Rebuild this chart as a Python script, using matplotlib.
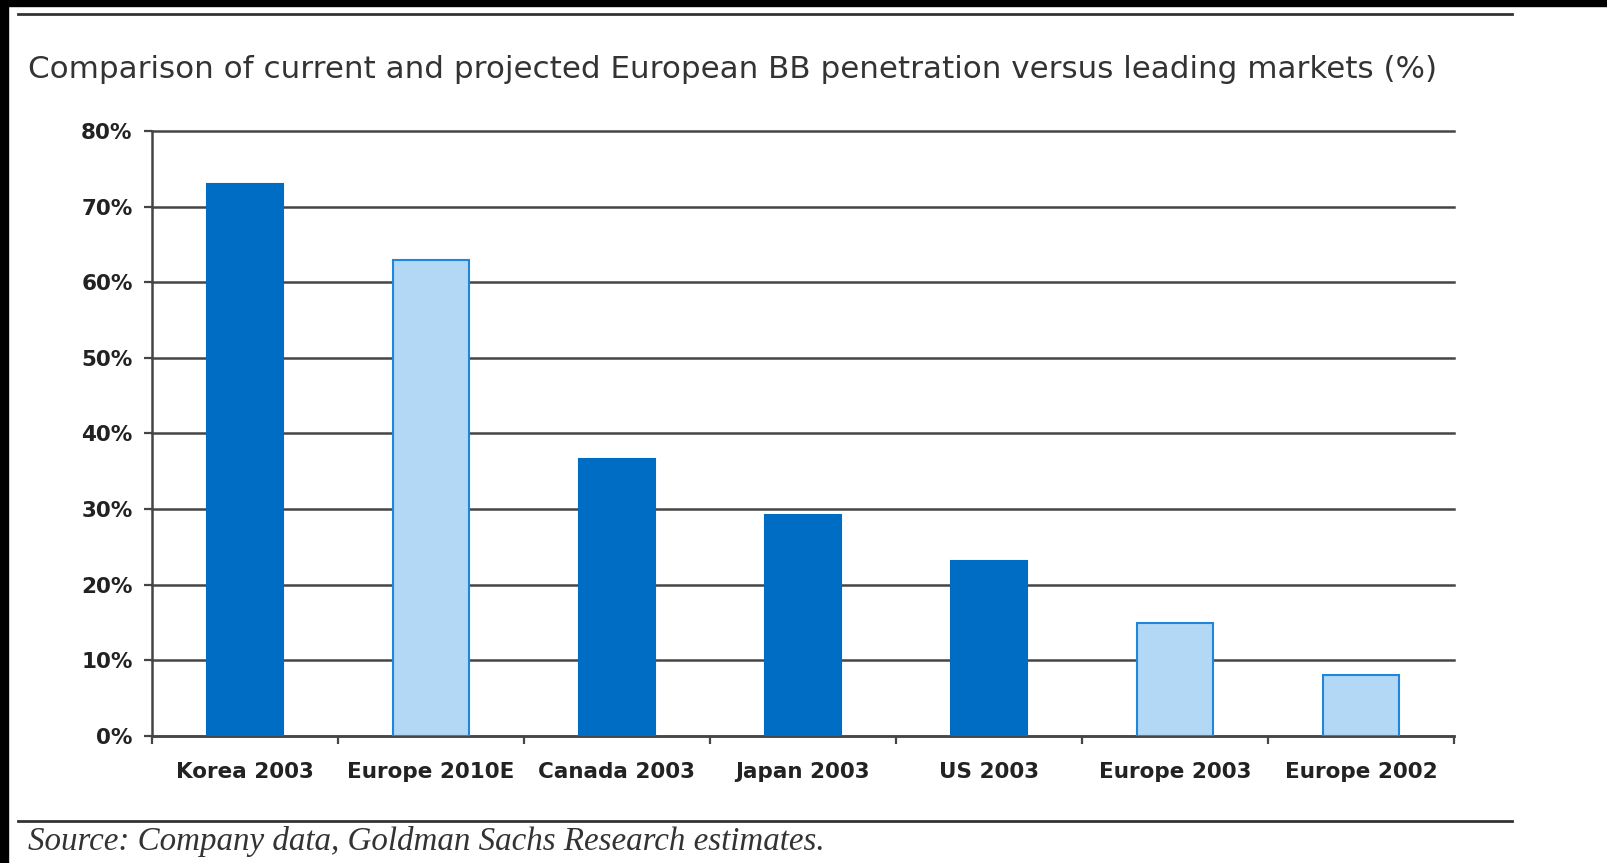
import numpy as np
import matplotlib.pyplot as plt
from matplotlib.lines import Line2D
from matplotlib.patches import Rectangle

# chart data
markets = ['Korea 2003', 'Europe 2010E', 'Canada 2003', 'Japan 2003',
           'US 2003', 'Europe 2003', 'Europe 2002']
penetration = [73, 63, 36.6, 29.2, 23.2, 15, 8.1]
is_europe = [False, True, False, False, False, True, True]
y_ticks = [0, 10, 20, 30, 40, 50, 60, 70, 80]

dark_blue = '#006dc5'
light_blue = '#b2d8f5'
light_edge = '#1f86dc'
grid_col = '#454545'

fig = plt.figure(figsize=(16.08, 8.63), dpi=100)
fig.patch.set_facecolor('white')

# black scan borders along top and left edge
fig.patches.append(Rectangle((0, 0.993), 1, 0.007, transform=fig.transFigure,
                             color='black', zorder=0))
fig.patches.append(Rectangle((0, 0), 0.005, 1, transform=fig.transFigure,
                             color='black', zorder=0))

ax = fig.add_axes([0.0945, 0.1472, 0.8097, 0.7010])

x = np.arange(len(markets))
faces = [light_blue if e else dark_blue for e in is_europe]
edges = [light_edge if e else dark_blue for e in is_europe]
ax.bar(x, penetration, width=0.41, color=faces, edgecolor=edges,
       linewidth=1.5, zorder=3)

ax.set_xlim(-0.5, len(markets) - 0.5)
ax.set_ylim(0, 80)
ax.set_yticks(y_ticks)
ax.set_yticklabels([f'{v}%' for v in y_ticks])
ax.yaxis.grid(True, color=grid_col, linewidth=1.8, zorder=1)
ax.set_axisbelow(True)
for gl in ax.get_ygridlines():
    gl.set_clip_on(False)

# category labels at centres, tick marks at the boundaries
ax.set_xticks(x)
ax.set_xticklabels(markets)
ax.set_xticks(np.arange(len(markets) + 1) - 0.5, minor=True)
ax.tick_params(axis='x', which='major', length=0, pad=19)
ax.tick_params(axis='x', which='minor', length=6, width=1.6, color=grid_col)
ax.tick_params(axis='y', length=6, width=1.6, color=grid_col, pad=8)

for lab in ax.get_xticklabels() + ax.get_yticklabels():
    lab.set_fontweight('bold')
    lab.set_color('#222222')
    lab.set_fontsize(15.5)

for side in ['top', 'right']:
    ax.spines[side].set_visible(False)
for side in ['left', 'bottom']:
    ax.spines[side].set_color(grid_col)
    ax.spines[side].set_linewidth(1.8)

# title, rules and source line
fig.text(0.0174, 0.920, 'Comparison of current and projected European BB '
         'penetration versus leading markets (%)', fontsize=22.3,
         color='#333333', va='center', ha='left')
fig.lines.append(Line2D([0.0112, 0.9403], [0.9838, 0.9838],
                        transform=fig.transFigure, color='#333333', lw=2))
fig.lines.append(Line2D([0.0112, 0.9403], [0.0492, 0.0492],
                        transform=fig.transFigure, color='#333333', lw=2))
fig.text(0.0174, 0.025, 'Source: Company data, Goldman Sachs Research estimates.',
         fontsize=23.8, family='Liberation Serif', style='italic',
         color='#333333', va='center', ha='left')

fig.savefig('out.png', dpi=100)
